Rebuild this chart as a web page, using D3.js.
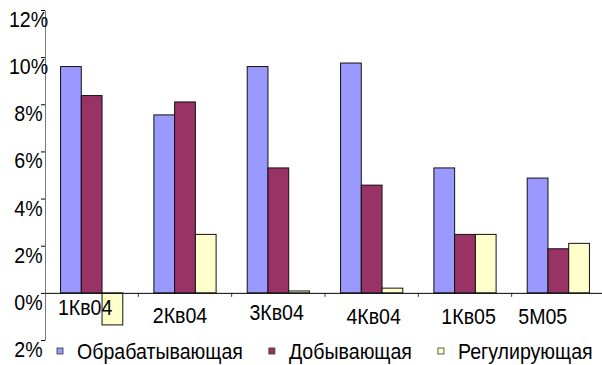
<!DOCTYPE html>
<html>
<head>
<meta charset="utf-8">
<script src="https://cdn.jsdelivr.net/npm/d3@7/dist/d3.min.js"></script>
<style>
  html, body { margin: 0; padding: 0; background: #fff; }
  svg { display: block; }
  text { font-family: "Liberation Sans", Arial, sans-serif; fill: #000; }
</style>
</head>
<body>
<svg id="chart" width="602" height="365"></svg>
<script>
// Growth by industry group, %
const categories = ["1Кв04", "2Кв04", "3Кв04", "4Кв04", "1Кв05", "5М05"];
const seriesNames = ["Обрабатывающая", "Добывающая", "Регулирующая"];
const manufacturing = [9.6, 7.55, 9.6, 9.75, 5.3, 4.87];
const mining = [8.37, 8.1, 5.3, 4.57, 2.48, 1.87];
const utilities = [-1.36, 2.48, 0.08, 0.2, 2.48, 2.1];
const yTicks = [-2, 0, 2, 4, 6, 8, 10, 12];
const yTickLabels = ["2%", "0%", "2%", "4%", "6%", "8%", "10%", "12%"];

const colors = ["#9999FF", "#993366", "#FFFFCC"];
const seriesValues = [manufacturing, mining, utilities];

const svg = d3.select("#chart");
const plotLeft = 45, plotRight = 605, plotTop = 10, plotBottom = 340;
const fontSize = 19.6, stretch = 1.14;

const x = d3.scaleBand().domain(categories).range([plotLeft, plotRight]).paddingInner(0).paddingOuter(0);
const bandW = x.bandwidth();
const barW = bandW / 4.5;
const xs = d3.scaleBand().domain(seriesNames).range([0, barW * 3]);
const y = d3.scaleLinear().domain([-2, 12]).range([plotBottom, plotTop]);

// bars
seriesNames.forEach((name, si) => {
  svg.append("g").selectAll("rect")
    .data(categories.map((c, i) => ({ c, v: seriesValues[si][i] })))
    .join("rect")
    .attr("x", d => x(d.c) + (bandW - barW * 3) / 2 + xs(name))
    .attr("y", d => y(Math.max(0, d.v)))
    .attr("width", barW)
    .attr("height", d => Math.abs(y(d.v) - y(0)))
    .attr("fill", colors[si])
    .attr("stroke", "#111")
    .attr("stroke-width", 1);
});

// y axis
const yAxis = svg.append("g").attr("transform", `translate(${plotLeft},0)`)
  .call(d3.axisLeft(y).tickValues(yTicks).tickSize(4).tickFormat("").tickSizeOuter(0));
yAxis.select(".domain").attr("stroke", "#777");
yAxis.selectAll(".tick line").attr("stroke", "#000");

// y tick labels (stretched vertically)
yTicks.forEach((t, i) => {
  svg.append("g")
    .attr("transform", `translate(28.5,${y(t) + 9}) scale(1,${stretch})`)
    .append("text")
    .attr("text-anchor", "middle")
    .attr("dominant-baseline", "central")
    .attr("font-size", fontSize)
    .text(yTickLabels[i]);
});

// x axis at zero
const xAxis = svg.append("g").attr("transform", `translate(0,${y(0)})`)
  .call(d3.axisBottom(x).tickSize(4).tickFormat("").tickSizeOuter(0));
xAxis.select(".domain").attr("stroke", "#000");
xAxis.selectAll(".tick line")
  .attr("transform", `translate(${bandW / 2},0)`)
  .attr("stroke", "#333");

// category labels, staggered slightly below the zero line
const labelShift = [[-6.5, 14.5], [-5, 22.5], [-1.7, 19.5], [2, 23.5], [3.6, 23], [-15.6, 23]];
categories.forEach((c, i) => {
  svg.append("g")
    .attr("transform", `translate(${x(c) + bandW / 2 + labelShift[i][0]},${y(0) + labelShift[i][1]}) scale(1,${stretch})`)
    .append("text")
    .attr("text-anchor", "middle")
    .attr("dominant-baseline", "central")
    .attr("font-size", fontSize)
    .text(c);
});

// legend
let lx = 57;
const ly = 351;
seriesNames.forEach((name, i) => {
  svg.append("rect")
    .attr("x", lx).attr("y", ly - 3)
    .attr("width", 6).attr("height", 6)
    .attr("fill", colors[i]).attr("stroke", "#333").attr("stroke-width", 0.8);
  const t = svg.append("g")
    .attr("transform", `translate(${lx + 20},${ly}) scale(1,${stretch})`)
    .append("text")
    .attr("dominant-baseline", "central")
    .attr("font-size", fontSize)
    .text(name);
  lx += 20 + t.node().getComputedTextLength() + 26;
});
</script>
</body>
</html>
